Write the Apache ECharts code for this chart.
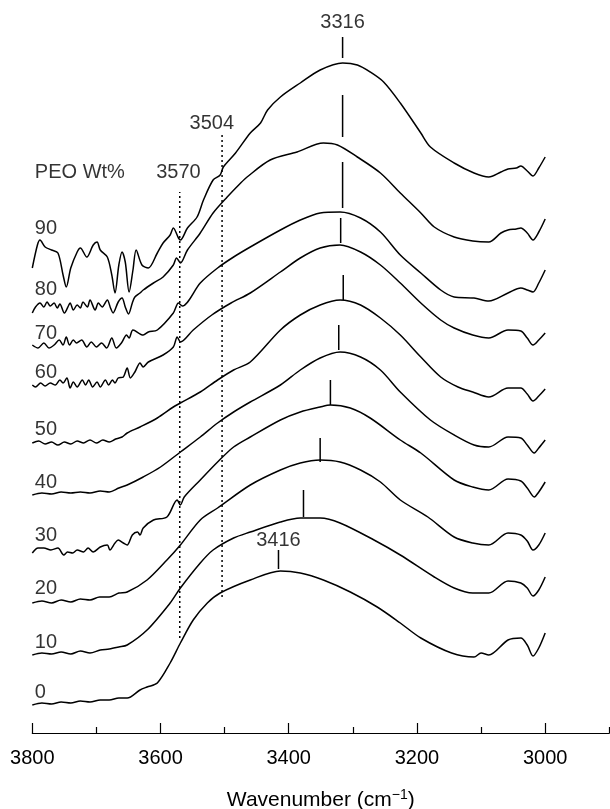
<!DOCTYPE html>
<html><head><meta charset="utf-8">
<script src="https://cdn.jsdelivr.net/npm/echarts@6/dist/echarts.min.js"></script>
<style>html,body{margin:0;padding:0;background:#fff}#c{width:610px;height:809px}</style>
</head><body><div id="c"></div>
<script>
// Wavenumber (cm-1) vs. offset absorbance (arbitrary units, stacked)
const peo90 = [[3800,465],[3792,488],[3788,493],[3780,486],[3770,483],[3760,480],[3752,458],[3747,446],[3740,465],[3730,481],[3725,485],[3715,476],[3705,488],[3699,491],[3694,483],[3683,476],[3676,458],[3671,440],[3665,468],[3660,481],[3655,471],[3649,441],[3643,463],[3638,483],[3629,468],[3619,465],[3605,480],[3596,490],[3585,498],[3580,505],[3572,495],[3569,493],[3558,505],[3543,516],[3533,533],[3518,553],[3507,558],[3502,566],[3483,580],[3460,600],[3444,610],[3433,623],[3413,636],[3382,650],[3351,663],[3316,670],[3293,668],[3273,661],[3252,651],[3226,630],[3194,600],[3179,586],[3142,570],[3111,560],[3088,556],[3069,561],[3058,564],[3045,565],[3038,567],[3028,562],[3019,557],[3010,565],[3000,576]];
const peo80 = [[3800,420],[3795,426],[3788,430],[3782,426],[3777,431],[3772,427],[3766,430],[3761,425],[3757,429],[3750,420],[3743,428],[3741,430],[3736,423],[3730,428],[3725,425],[3721,431],[3714,426],[3710,433],[3702,423],[3697,430],[3691,426],[3683,433],[3678,425],[3674,420],[3666,431],[3660,435],[3655,426],[3650,419],[3644,430],[3640,436],[3632,440],[3627,443],[3611,450],[3596,456],[3580,468],[3575,475],[3569,470],[3558,483],[3538,500],[3518,520],[3496,536],[3475,550],[3465,556],[3429,573],[3387,581],[3346,590],[3324,588],[3293,576],[3257,560],[3226,540],[3194,520],[3173,506],[3142,496],[3113,492],[3088,491],[3069,500],[3058,503],[3045,504],[3038,505],[3028,500],[3019,493],[3010,501],[3000,514]];
const peo70 = [[3800,388],[3791,385],[3782,390],[3774,385],[3766,388],[3758,393],[3752,388],[3747,396],[3742,388],[3736,393],[3731,390],[3723,393],[3715,386],[3708,391],[3700,386],[3692,390],[3684,385],[3676,395],[3669,385],[3661,390],[3653,398],[3649,395],[3643,403],[3627,398],[3619,401],[3605,403],[3580,420],[3572,430],[3566,427],[3538,450],[3511,465],[3486,476],[3460,486],[3413,503],[3382,513],[3351,520],[3320,521],[3288,515],[3257,501],[3226,478],[3194,460],[3163,443],[3142,436],[3111,435],[3088,432],[3058,440],[3038,445],[3028,443],[3019,441],[3010,450],[3000,463]];
const peo60 = [[3800,348],[3795,346],[3787,350],[3780,347],[3772,350],[3764,348],[3757,353],[3752,350],[3746,355],[3741,345],[3736,351],[3730,346],[3722,353],[3717,348],[3712,353],[3706,346],[3699,351],[3694,346],[3686,353],[3681,348],[3675,353],[3671,350],[3666,355],[3658,356],[3652,365],[3647,355],[3640,361],[3632,370],[3627,366],[3619,371],[3596,378],[3580,386],[3574,396],[3569,391],[3549,403],[3520,418],[3490,430],[3460,440],[3413,461],[3382,475],[3351,485],[3320,488],[3288,481],[3257,468],[3226,450],[3194,430],[3163,413],[3142,405],[3113,398],[3088,395],[3058,403],[3038,402],[3028,395],[3019,388],[3010,393],[3000,400]];
const peo50 = [[3800,290],[3790,292],[3780,289],[3770,291],[3760,288],[3750,291],[3740,289],[3730,292],[3720,290],[3710,293],[3700,290],[3690,293],[3680,291],[3670,294],[3660,296],[3652,300],[3632,306],[3605,315],[3580,326],[3569,330],[3538,341],[3511,353],[3486,363],[3460,371],[3413,403],[3382,418],[3351,428],[3320,433],[3288,428],[3257,415],[3226,398],[3194,376],[3163,356],[3136,346],[3113,341],[3088,336],[3058,345],[3038,345],[3028,339],[3019,332],[3010,337],[3000,344]];
const peo40 = [[3800,238],[3785,240],[3770,239],[3755,241],[3740,240],[3725,241],[3710,240],[3694,242],[3680,241],[3665,245],[3652,248],[3627,256],[3600,266],[3569,281],[3538,296],[3511,310],[3486,321],[3460,331],[3413,348],[3382,363],[3351,375],[3320,381],[3288,376],[3257,363],[3226,341],[3179,313],[3142,298],[3111,288],[3088,286],[3058,296],[3038,295],[3028,288],[3017,280],[3010,285],[3000,293]];
const peo30 = [[3800,180],[3791,185],[3782,185],[3771,183],[3760,185],[3751,178],[3745,181],[3737,180],[3730,183],[3720,181],[3713,185],[3705,181],[3694,186],[3683,188],[3679,183],[3671,190],[3666,193],[3658,190],[3652,188],[3644,198],[3636,201],[3632,198],[3627,205],[3611,213],[3590,216],[3574,233],[3569,228],[3563,236],[3538,253],[3511,271],[3486,286],[3460,296],[3413,313],[3382,321],[3351,326],[3335,328],[3304,325],[3273,315],[3226,293],[3194,280],[3142,253],[3113,246],[3088,243],[3058,254],[3038,252],[3028,245],[3017,236],[3010,241],[3000,251]];
const peo20 = [[3800,130],[3785,132],[3770,130],[3755,133],[3740,131],[3725,134],[3710,133],[3695,136],[3680,136],[3665,140],[3652,141],[3621,153],[3590,173],[3569,188],[3538,213],[3511,225],[3460,248],[3413,263],[3382,270],[3351,273],[3320,271],[3288,263],[3257,251],[3226,233],[3183,216],[3142,196],[3113,190],[3088,188],[3058,200],[3038,198],[3028,192],[3019,183],[3010,188],[3000,200]];
const peo10 = [[3800,78],[3785,80],[3770,79],[3755,81],[3740,79],[3725,82],[3710,80],[3694,83],[3680,84],[3665,86],[3652,88],[3621,103],[3585,130],[3569,145],[3538,170],[3518,183],[3486,195],[3460,201],[3413,211],[3382,215],[3351,215],[3320,210],[3267,193],[3226,178],[3173,156],[3142,145],[3113,140],[3088,140],[3058,152],[3038,150],[3028,145],[3019,137],[3010,143],[3000,156]];
const peo0 = [[3800,28],[3785,30],[3770,29],[3755,31],[3740,30],[3725,32],[3710,31],[3694,33],[3680,33],[3665,35],[3652,35],[3632,43],[3621,46],[3605,50],[3585,70],[3569,90],[3549,113],[3527,130],[3507,140],[3460,153],[3413,162],[3382,160],[3346,153],[3304,141],[3262,126],[3226,110],[3194,95],[3146,80],[3111,76],[3100,80],[3088,78],[3058,93],[3038,95],[3028,88],[3019,77],[3010,85],[3000,100]];

const spectra = [peo90, peo80, peo70, peo60, peo50, peo40, peo30, peo20, peo10, peo0];
const peoLabels = ['90','80','70','60','50','40','30','20','10','0'];
const peoLabelY = [505, 444, 400, 361, 304, 251, 198, 145, 91, 41];

// peak marker ticks: wavenumber, lower end, upper end
const markerWn = [3316, 3316, 3316, 3319, 3315, 3322, 3335, 3351, 3377, 3416];
const markerLow = [675, 596, 525, 490, 433, 383, 328, 271, 216, 164];
const markerHigh = [696, 638, 571, 515, 458, 408, 353, 295, 243, 183];

// reference (dotted) lines
const refWn = [3570, 3504];
const refLow = [95, 136];
const refHigh = [541, 600];

const annotations = [['PEO Wt%', 3796, 561, 'left'], ['3570', 3572, 561, 'center'], ['3504', 3520, 610, 'center'], ['3316', 3316, 711, 'center'], ['3416', 3416, 193, 'center']];

const majorTicks = [3800, 3600, 3400, 3200, 3000];
const minorTicks = [3700, 3500, 3300, 3100, 2900];

const FONT = 'Liberation Sans, Arial, Helvetica, sans-serif';
const series = [];
spectra.forEach((d, i) => {
  series.push({type: 'line', data: d, showSymbol: false, smooth: 0.3, silent: true,
    lineStyle: {color: '#000', width: 1.5}, z: 3});
});
markerWn.forEach((w, i) => {
  series.push({type: 'line', data: [[w, markerLow[i]], [w, markerHigh[i]]], showSymbol: false, silent: true,
    lineStyle: {color: '#000', width: 1.5}});
});
refWn.forEach((w, i) => {
  series.push({type: 'line', data: [[w, refLow[i]], [w, refHigh[i]]], showSymbol: false, silent: true,
    lineStyle: {color: '#000', width: 1.5, type: [2, 3]}});
});
series.push({type: 'scatter', symbolSize: 0, silent: true,
  data: peoLabels.map((t, i) => [3796, peoLabelY[i], t]),
  label: {show: true, position: [0, 0], align: 'left', verticalAlign: 'middle',
    formatter: p => p.data[2], color: '#000', fontSize: 20, fontFamily: FONT}});
annotations.forEach(a => {
  series.push({type: 'scatter', symbolSize: 0, silent: true, data: [[a[1], a[2], a[0]]],
    label: {show: true, position: [0, 0], align: a[3], verticalAlign: 'middle',
      formatter: p => p.data[2], color: '#000', fontSize: 20, fontFamily: FONT}});
});

const chart = echarts.init(document.getElementById('c'), null, {renderer: 'canvas'});
chart.setOption({
  animation: false,
  backgroundColor: '#fff',
  grid: {left: 32.3, right: 0.7, top: 0, bottom: 76, containLabel: false, outerBoundsMode: 'none'},
  xAxis: [{
    type: 'value', min: 2900, max: 3800, inverse: true, position: 'bottom',
    axisLine: {show: true, lineStyle: {color: '#000', width: 1.2}},
    axisTick: {show: true, inside: true, length: 10, customValues: majorTicks, lineStyle: {color: '#000', width: 1.2}},
    axisLabel: {show: true, customValues: majorTicks, margin: 15, color: '#000', fontSize: 20, fontFamily: FONT,
      formatter: v => String(v)},
    splitLine: {show: false},
    name: '{a|Wavenumber (cm}{s|\u22121}{a|)}', nameLocation: 'middle', nameGap: 55,
    nameTextStyle: {color: '#000', fontFamily: FONT, rich: {
      a: {fontSize: 21, fontFamily: FONT, color: '#000'},
      s: {fontSize: 14, fontFamily: FONT, color: '#000', padding: [0, 0, 10, 0]}}}
  }, {
    type: 'value', min: 2900, max: 3800, inverse: true, position: 'bottom', offset: 0,
    axisLine: {show: false},
    axisTick: {show: true, inside: true, length: 6, customValues: minorTicks, lineStyle: {color: '#000', width: 1.2}},
    axisLabel: {show: false}, splitLine: {show: false}
  }],
  yAxis: {type: 'value', min: 0, max: 733, show: false, splitLine: {show: false}},
  series: series
});
</script></body></html>
